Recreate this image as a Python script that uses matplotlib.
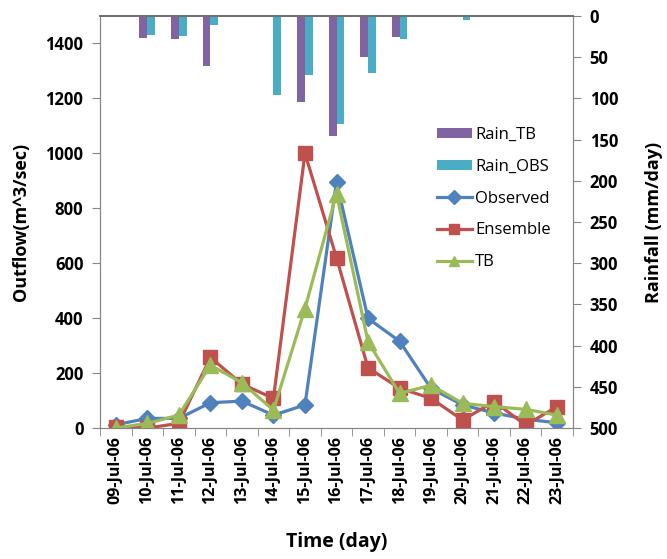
import numpy as np
import matplotlib.pyplot as plt

plt.rcParams['font.family'] = ['Open Sans', 'DejaVu Sans']

dates = ['09-Jul-06', '10-Jul-06', '11-Jul-06', '12-Jul-06', '13-Jul-06',
         '14-Jul-06', '15-Jul-06', '16-Jul-06', '17-Jul-06', '18-Jul-06',
         '19-Jul-06', '20-Jul-06', '21-Jul-06', '22-Jul-06', '23-Jul-06']

# caudales (m^3/s)
observed = [12, 35, 35, 92, 98, 47, 84, 896, 399, 316, 144, 84, 55, 32, 19]
ensemble = [5, 0, 17, 257, 160, 108, 1000, 620, 219, 145, 108, 29, 96, 11, 78]
tb = [0, 17, 47, 229, 165, 65, 435, 853, 314, 126, 156, 90, 78, 68, 47]

# lluvia (mm/dia)
rain_tb = [0, 27, 28, 61, 1.5, 1, 104, 146, 50, 26, 1, 1, 1, 0, 1]
rain_obs = [0, 23, 24, 11, 0, 96, 72, 131, 69, 28, 0, 5, 0, 0, 0]

x = np.arange(len(dates))

fig = plt.figure(figsize=(6.67, 5.59), dpi=100)
ax = fig.add_axes([0.15, 0.2343, 0.709, 0.7371])
ax2 = ax.twinx()

# barras de lluvia colgando desde arriba
w = 0.25
b1 = ax2.bar(x - w / 2, rain_tb, w, color='#8064A2', label='Rain_TB')
b2 = ax2.bar(x + w / 2, rain_obs, w, color='#4BACC6', label='Rain_OBS')
ax2.set_ylim(500, 0)
ax2.set_yticks(np.arange(0, 501, 50))

lw = 2.3
l1, = ax.plot(x, observed, color='#4F81BD', lw=lw, marker='D', ms=8, label='Observed')
l2, = ax.plot(x, ensemble, color='#C0504D', lw=lw, marker='s', ms=10, label='Ensemble')
l3, = ax.plot(x, tb, color='#9BBB59', lw=lw, marker='^', ms=11, label='TB')
ax.set_zorder(ax2.get_zorder() + 1)
ax.patch.set_visible(False)

ax.set_xlim(-0.5, len(dates) - 0.5)
ax.set_ylim(0, 1500)
ax.set_yticks(np.arange(0, 1401, 200))
ax.set_xticks(x)
ax.set_xticklabels(dates, rotation=90, fontsize=11.5, fontweight='bold')
ax.set_xticks(np.arange(-0.5, len(dates), 1), minor=True)
ax.tick_params(axis='x', which='major', length=0, pad=6)
ax.tick_params(axis='x', which='minor', length=6, color='#868686', direction='out')
ax.tick_params(axis='y', length=6, color='#868686', labelsize=12, pad=6)
ax2.tick_params(axis='y', length=6, color='#868686', labelsize=12, pad=6)
for lab in ax.get_yticklabels() + ax2.get_yticklabels():
    lab.set_fontweight('bold')

for a in (ax, ax2):
    for s in ('left', 'right', 'bottom'):
        a.spines[s].set_color('#868686')
    a.spines['top'].set_color('#707070')
    a.spines['top'].set_linewidth(1.3)

ax.set_ylabel('Outflow(m^3/sec)', fontsize=13, fontweight='bold', labelpad=11)
ax2.set_ylabel('Rainfall (mm/day)', fontsize=13, fontweight='bold', labelpad=19)
ax.set_xlabel('Time (day)', fontsize=14, fontweight='bold', labelpad=20)

leg = fig.legend(handles=[b1, b2, l1, l2, l3], loc='upper left',
                 bbox_to_anchor=(0.645, 0.785), frameon=False, fontsize=12,
                 handlelength=2.1, handleheight=0.6, handletextpad=0.2,
                 labelspacing=0.95, borderaxespad=0)
for h in leg.legend_handles[2:]:
    h.set_markersize(7)

fig.savefig('out.png', dpi=100)
